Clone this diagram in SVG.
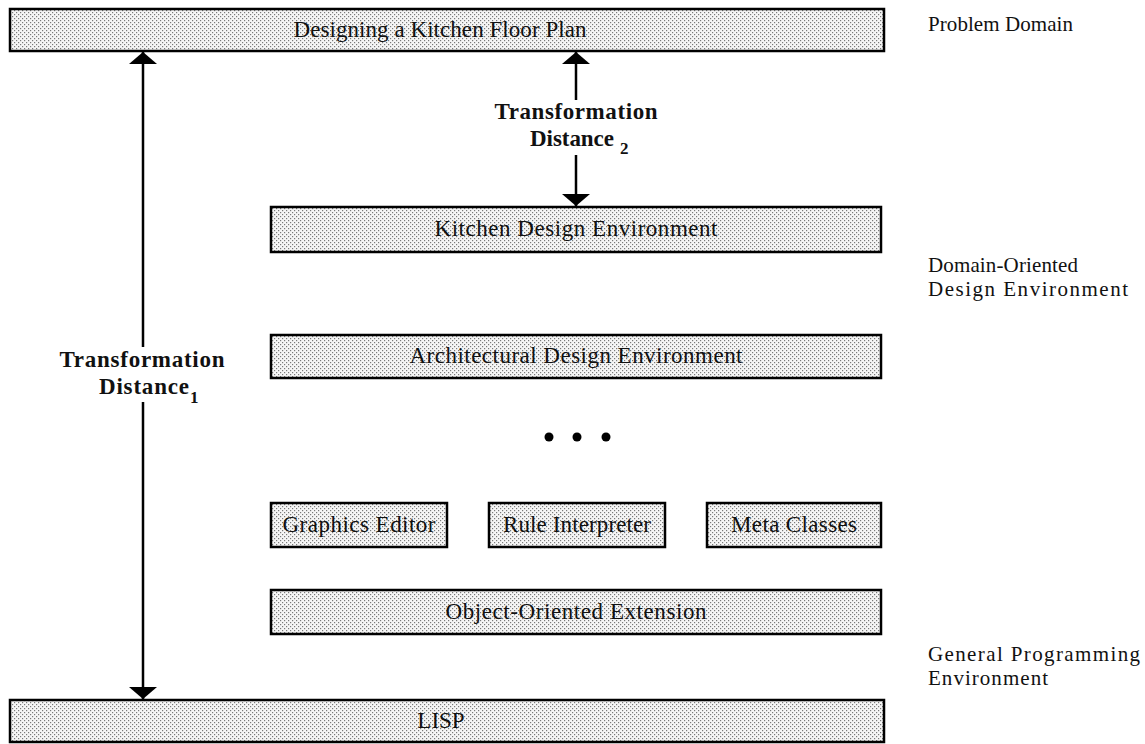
<svg xmlns="http://www.w3.org/2000/svg" width="1145" height="744" viewBox="0 0 1145 744">
  <defs>
    <!-- halftone dot screen used for every layer bar -->
    <pattern id="screen" width="4" height="4" patternUnits="userSpaceOnUse">
      <rect width="4" height="4" fill="#f6f6f6"/>
      <rect x="0" y="0" width="1.2" height="1.2" fill="#7a7a7a"/>
      <rect x="2" y="2" width="1.2" height="1.2" fill="#7a7a7a"/>
    </pattern>
    <marker id="head" viewBox="0 0 12 28" refX="12" refY="14" markerWidth="12" markerHeight="28" markerUnits="userSpaceOnUse" orient="auto">
      <path d="M0,0 L12,14 L0,28 Z" fill="#000"/>
    </marker>
  </defs>
  <style>
    .bar { fill: url(#screen); stroke: #000; stroke-width: 2.5; }
    .lbl { font-family: "Liberation Serif", "Times New Roman", serif; font-size: 23px; fill: #111; text-anchor: middle; }
    .side { font-family: "Liberation Serif", "Times New Roman", serif; font-size: 21px; fill: #111; }
    .td { font-family: "Liberation Serif", "Times New Roman", serif; font-size: 23px; font-weight: bold; fill: #111; text-anchor: middle; }
    .sub { font-family: "Liberation Serif", "Times New Roman", serif; font-size: 17px; font-weight: bold; fill: #111; }
    .conn { stroke: #000; stroke-width: 2.5; fill: none; }
  </style>

  <rect width="1145" height="744" fill="#fff"/>

  <g id="problem">
    <rect class="bar" x="10" y="9" width="874" height="42"/>
    <text class="lbl" x="440" y="37" textLength="293" lengthAdjust="spacing">Designing a Kitchen Floor Plan</text>
  </g>

  <g id="kitchen-env">
    <rect class="bar" x="271" y="207" width="610" height="45"/>
    <text class="lbl" x="576" y="236" textLength="283" lengthAdjust="spacing">Kitchen Design Environment</text>
  </g>

  <g id="arch-env">
    <rect class="bar" x="271" y="335" width="610" height="43"/>
    <text class="lbl" x="576" y="363" textLength="333" lengthAdjust="spacing">Architectural Design Environment</text>
  </g>

  <g id="ellipsis">
    <circle cx="549" cy="437" r="4.5" fill="#000"/>
    <circle cx="577" cy="437" r="4.5" fill="#000"/>
    <circle cx="606" cy="437" r="4.5" fill="#000"/>
  </g>

  <g id="graphics-editor">
    <rect class="bar" x="271" y="503" width="176" height="44"/>
    <text class="lbl" x="359" y="532" textLength="153" lengthAdjust="spacing">Graphics Editor</text>
  </g>

  <g id="rule-interpreter">
    <rect class="bar" x="489" y="503" width="176" height="44"/>
    <text class="lbl" x="577" y="532" textLength="148" lengthAdjust="spacing">Rule Interpreter</text>
  </g>

  <g id="meta-classes">
    <rect class="bar" x="707" y="503" width="174" height="44"/>
    <text class="lbl" x="794" y="532" textLength="126" lengthAdjust="spacing">Meta Classes</text>
  </g>

  <g id="oo-extension">
    <rect class="bar" x="271" y="590" width="610" height="44"/>
    <text class="lbl" x="576" y="619" textLength="261" lengthAdjust="spacing">Object-Oriented Extension</text>
  </g>

  <g id="lisp">
    <rect class="bar" x="10" y="700" width="874" height="42"/>
    <text class="lbl" x="441" y="728">LISP</text>
  </g>

  <g id="side-labels">
    <text class="side" x="928" y="31" textLength="145" lengthAdjust="spacing">Problem Domain</text>
    <text class="side" x="928" y="272" textLength="150" lengthAdjust="spacing">Domain-Oriented</text>
    <text class="side" x="928" y="296" textLength="200" lengthAdjust="spacing">Design Environment</text>
    <text class="side" x="928" y="661" textLength="212" lengthAdjust="spacing">General Programming</text>
    <text class="side" x="928" y="685" textLength="120" lengthAdjust="spacing">Environment</text>
  </g>

  <g id="connectors">
    <!-- distance 1: LISP up to the problem -->
    <line class="conn" x1="143" y1="347" x2="143" y2="52" marker-end="url(#head)"/>
    <line class="conn" x1="143" y1="402" x2="143" y2="699" marker-end="url(#head)"/>
    <!-- distance 2: kitchen environment up to the problem -->
    <line class="conn" x1="576" y1="100" x2="576" y2="52" marker-end="url(#head)"/>
    <line class="conn" x1="576" y1="155" x2="576" y2="206" marker-end="url(#head)"/>
  </g>

  <g id="distance-labels">
    <text class="td" x="142" y="367" textLength="165" lengthAdjust="spacing">Transformation</text>
    <text class="td" x="144" y="394" textLength="90" lengthAdjust="spacing">Distance</text>
    <text class="sub" x="190" y="403">1</text>
    <text class="td" x="576" y="119" textLength="163" lengthAdjust="spacing">Transformation</text>
    <text class="td" x="572" y="146" textLength="84" lengthAdjust="spacing">Distance</text>
    <text class="sub" x="620" y="154">2</text>
  </g>
</svg>
